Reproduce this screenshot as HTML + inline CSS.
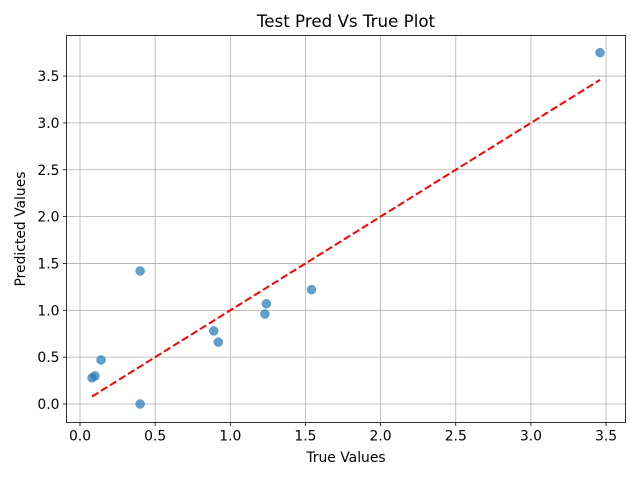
<!DOCTYPE html>
<html><head><meta charset="utf-8">
<style>
body{margin:0;background:#fff;}
svg text{font-family:"DejaVu Sans","Liberation Sans",sans-serif;fill:#000;}
</style></head>
<body>
<svg id="chart" width="640" height="480" xmlns="http://www.w3.org/2000/svg">
<rect width="640" height="480" fill="#fff"/>
<text x="346" y="27" font-size="16.7" text-anchor="middle">Test Pred Vs True Plot</text>
<g id="grid"></g>
<g id="ticks"></g>
<g id="marks"></g>
<rect x="66.5" y="35.5" width="559" height="387" fill="none" stroke="#000" stroke-width="0.8"/>
<text x="346" y="462" font-size="13.9" text-anchor="middle">True Values</text>
<text transform="translate(25,229) rotate(-90)" font-size="13.9" text-anchor="middle">Predicted Values</text>
</svg>
<script>
const trueVals=[0.08,0.10,0.14,0.40,0.40,0.89,0.92,1.23,1.24,1.54,3.46];
const predVals=[0.28,0.30,0.47,1.42,0.00,0.78,0.66,0.96,1.07,1.22,3.75];
const xTicks=[0,0.5,1,1.5,2,2.5,3,3.5];
const yTicks=[0,0.5,1,1.5,2,2.5,3,3.5];
const tickLabels=["0.0","0.5","1.0","1.5","2.0","2.5","3.0","3.5"];
const NS="http://www.w3.org/2000/svg";
const L=66.5,R=625.5,T=35.5,B=422.5;
const xs=v=>80+v*150.3;
const ys=v=>404-v*93.7;
function mk(tag,attrs,parent){const e=document.createElementNS(NS,tag);for(const k in attrs)e.setAttribute(k,attrs[k]);document.getElementById(parent).appendChild(e);return e;}
xTicks.forEach((t,i)=>{
  const x=xs(t);
  const g=mk('line',{x1:x,x2:x,y1:T,y2:B,stroke:'#b0b0b0','stroke-width':0.8},'grid');
  
  
  const tk=mk('line',{x1:x,x2:x,y1:B,y2:B+3.5,stroke:'#000','stroke-width':0.8},'ticks');
  
  
  const tx=mk('text',{x:x,y:B+18,'font-size':13.9,'text-anchor':'middle'},'ticks');
  tx.textContent=tickLabels[i];
  
  
});
yTicks.forEach((t,i)=>{
  const y=ys(t);
  const g=mk('line',{x1:L,x2:R,y1:y,y2:y,stroke:'#b0b0b0','stroke-width':0.8},'grid');
  
  
  const tk=mk('line',{x1:L-3.5,x2:L,y1:y,y2:y,stroke:'#000','stroke-width':0.8},'ticks');
  
  
  const tx=mk('text',{x:L-7,y:y+5,'font-size':13.9,'text-anchor':'end'},'ticks');
  tx.textContent=tickLabels[i];
  
  
});
const mn=Math.min(...trueVals),mx=Math.max(...trueVals);
const ln=mk('line',{x1:xs(mn),y1:ys(mn),x2:xs(mx),y2:ys(mx),stroke:'#ff0000','stroke-width':2,'stroke-dasharray':'7.4,3.2'},'marks');


trueVals.forEach((v,i)=>{
  const c=mk('circle',{cx:xs(v),cy:ys(predVals[i]),r:4.5,fill:'#1f77b4','fill-opacity':0.7,stroke:'#1f77b4','stroke-opacity':0.7,'stroke-width':0.5},'marks');
  
  
});
</script>
</body></html>
